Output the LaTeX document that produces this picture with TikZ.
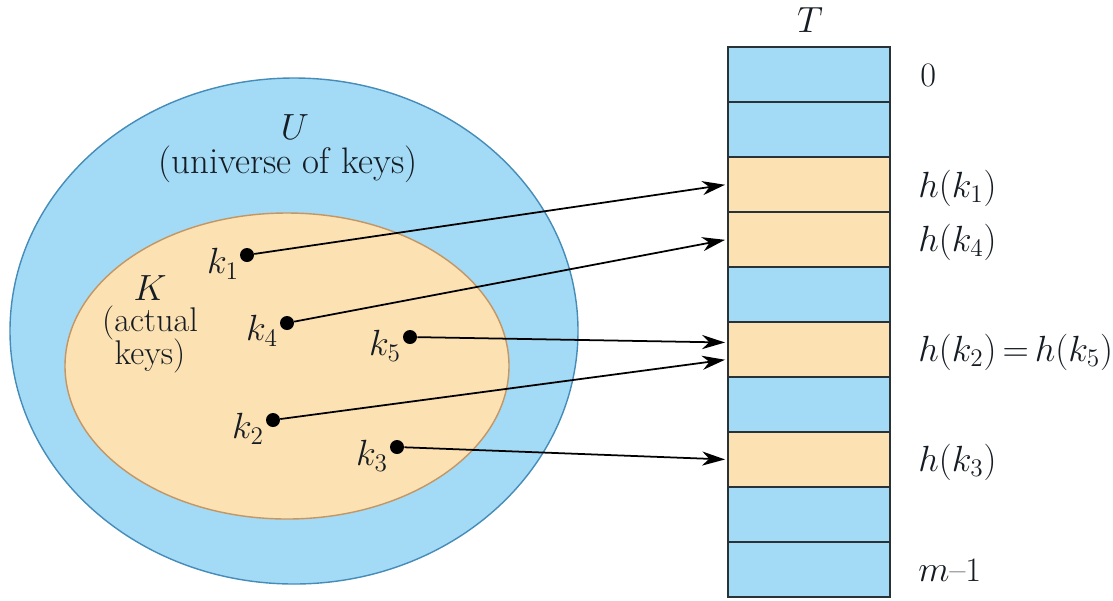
\documentclass[tikz,border=0pt]{standalone}
\usetikzlibrary{arrows.meta,calc}
\definecolor{ublue}{RGB}{163,218,245}
\definecolor{ubord}{RGB}{70,140,185}
\definecolor{korange}{RGB}{252,225,178}
\definecolor{kbord}{RGB}{196,150,100}
\definecolor{celld}{RGB}{40,50,55}
\definecolor{txt}{RGB}{22,28,35}
\begin{document}
\begin{tikzpicture}[x=0.02cm,y=-0.02cm,
  big/.style={font=\fontsize{19.5}{23}\selectfont, text=txt, inner sep=0pt},
  keydot/.style={circle, fill=black, minimum size=0.28cm, inner sep=0pt},
  cellb/.style={draw=celld, line width=1.4pt, fill=ublue, minimum width=3.24cm, minimum height=1.1cm, inner sep=0pt},
  cello/.style={cellb, fill=korange},
  hashto/.style={-{Stealth[length=13pt,width=8pt,inset=4pt]}, line width=1pt, black, shorten >=1pt},
  slot/.style={big, anchor=west}]
\path[use as bounding box] (0,0) rectangle (1113,600);
% universe and key set
\draw[fill=ublue, draw=ubord, line width=0.8pt] (294,331) ellipse [x radius=284, y radius=253];
\draw[fill=korange, draw=kbord, line width=0.8pt] (287,366) ellipse [x radius=222, y radius=153];
\node[big] (U) at (295,127) {$U$};
\node[big, font=\fontsize{21}{24}\selectfont] (Uu) at (288,164) {(universe of keys)};
\node[big] (K) at (150,288) {$K$};
\node[big] (Ka) at (150,323) {(actual};
\node[big] (Kk) at (150,356) {keys)};
% keys
\node[keydot] (k1) at (247,255) {};
\node[keydot] (k4) at (287,323) {};
\node[keydot] (k5) at (410,337) {};
\node[keydot] (k2) at (273,420) {};
\node[keydot] (k3) at (397,447) {};
\node[big] (l1) at (223,264) {$k_1$};
\node[big] (l4) at (262,331) {$k_4$};
\node[big] (l5) at (385,346) {$k_5$};
\node[big] (l2) at (248,429) {$k_2$};
\node[big] (l3) at (372,456) {$k_3$};
% table
\node[big] (T) at (810,20) {$T$};
\node[cellb] (c0) at (809,74.5) {};
\node[cellb] (c1) at (809,129.5) {};
\node[cello] (c2) at (809,184.5) {};
\node[cello] (c3) at (809,239.5) {};
\node[cellb] (c4) at (809,294.5) {};
\node[cello] (c5) at (809,349.5) {};
\node[cellb] (c6) at (809,404.5) {};
\node[cello] (c7) at (809,459.5) {};
\node[cellb] (c8) at (809,514.5) {};
\node[cellb] (c9) at (809,569.5) {};
\node[slot] (s0) at (920,75) {0};
\node[slot] (s2) at (918,188) {$h(k_1)$};
\node[slot] (s3) at (918,242) {$h(k_4)$};
\node[slot] (s5) at (918,352) {$h(k_2)\,{=}\,h(k_5)$};
\node[slot] (s7) at (918,462) {$h(k_3)$};
\node[slot] (s9) at (918,570) {$m$--1};
% hashing arrows
\draw[hashto] (k1) -- (c2.west);
\draw[hashto] (k4) -- (c3.west);
\draw[hashto] (k5) -- ($(c5.west)+(0,-7)$);
\draw[hashto] (k2) -- ($(c5.west)+(0,10)$);
\draw[hashto] (k3) -- (c7.west);
\end{tikzpicture}
\end{document}
